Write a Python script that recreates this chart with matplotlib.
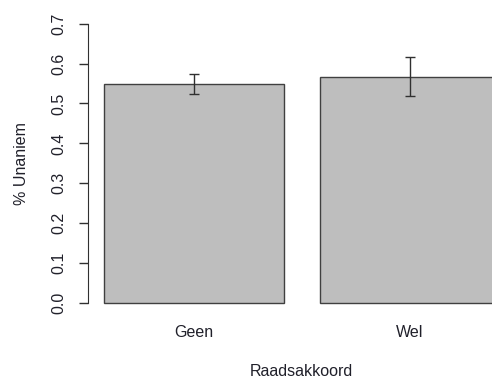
import matplotlib
matplotlib.use("Agg")
import matplotlib.pyplot as plt

# gemiddelde unanimiteit per groep, met foutmarges
groepen = ["Geen", "Wel"]
gemiddelde = [0.548, 0.567]
fout = [0.025, 0.049]
yticks = [0.0, 0.1, 0.2, 0.3, 0.4, 0.5, 0.6, 0.7]

plt.rcParams["font.family"] = ["Liberation Sans", "DejaVu Sans"]
tekst = "#20202a"
fs = 11.5

fig = plt.figure(figsize=(4.92, 3.78), dpi=100)
# plotgebied loopt rechts iets buiten de figuur door
ax = fig.add_axes([87.9 / 492, (378 - 314.2) / 378, (515.5 - 87.9) / 492, (314.2 - 12.5) / 378])

posities = [0.7, 1.9]
ax.bar(posities, gemiddelde, width=1.0, color="#bebebe", edgecolor="#404040", linewidth=1.0)
ax.errorbar(posities, gemiddelde, yerr=fout, fmt="none", ecolor="#303030",
            elinewidth=1.0, capsize=3.5, capthick=1.0)

ax.set_xlim(0.112, 2.488)
ax.set_ylim(-0.028, 0.728)

for kant in ["top", "right", "bottom"]:
    ax.spines[kant].set_visible(False)
ax.spines["left"].set_bounds(0.0, 0.7)
ax.spines["left"].set_color("#303030")

ax.set_yticks(yticks)
ax.set_yticklabels([f"{t:.1f}" for t in yticks], rotation=90, va="center",
                   fontsize=fs, color=tekst)
ax.tick_params(axis="y", length=6.5, width=1.0, color="#303030", pad=9)

ax.set_xticks(posities)
ax.set_xticklabels(groepen, fontsize=fs, color=tekst)
ax.tick_params(axis="x", length=0, pad=8)

ax.set_ylabel("% Unaniem", fontsize=fs, color=tekst)
ax.yaxis.set_label_coords(-0.138, 0.5)
ax.set_xlabel("Raadsakkoord", fontsize=fs, color=tekst)
ax.xaxis.set_label_coords((301 - 87.9) / (515.5 - 87.9), -0.165)

fig.savefig("out.png", dpi=100)
